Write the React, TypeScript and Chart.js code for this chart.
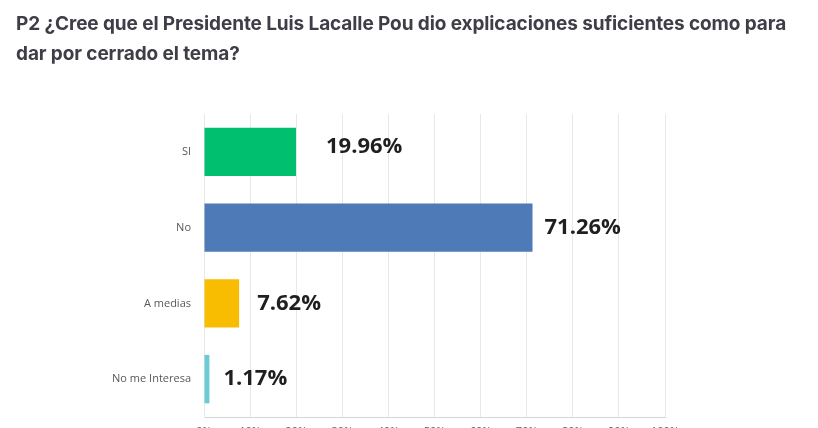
import React, { useEffect, useRef } from "react";
import { Chart, registerables } from "chart.js";

Chart.register(...registerables);

const titleLines = [
  "P2 ¿Cree que el Presidente Luis Lacalle Pou dio explicaciones suficientes como para",
  "dar por cerrado el tema?",
];
const categories = ["SI", "No", "A medias", "No me Interesa"];
const values = [19.96, 71.26, 7.62, 1.17];
const barColors = ["#00BF6F", "#4F7AB8", "#F8BD00", "#6CCAD5"];
const xTicks = [0, 10, 20, 30, 40, 50, 60, 70, 80, 90, 100];

const labelOffsetX = [30, 12, 18, 14];
const labelOffsetY = [-5, 0, 0, 0];

const valueLabelPlugin = {
  id: "valueLabels",
  afterDatasetsDraw(chart: any) {
    const ctx = chart.ctx;
    const meta = chart.getDatasetMeta(0);
    ctx.save();
    ctx.font = "bold 22px 'Open Sans'";
    ctx.fillStyle = "#1f1f1f";
    ctx.textAlign = "left";
    ctx.textBaseline = "middle";
    meta.data.forEach((bar: any, i: number) => {
      const v = chart.data.datasets[0].data[i];
      ctx.fillText(v.toFixed(2) + "%", bar.x + labelOffsetX[i], bar.y + labelOffsetY[i]);
    });
    ctx.restore();
  },
};

export default function App() {
  const ref = useRef<HTMLCanvasElement | null>(null);
  useEffect(() => {
    if (!ref.current) return;
    const chart = new Chart(ref.current, {
      type: "bar",
      data: {
        labels: categories,
        datasets: [
          {
            data: values,
            backgroundColor: barColors,
            borderWidth: 0,
            barPercentage: 0.8,
            categoryPercentage: 0.8,
          },
        ],
      },
      options: {
        indexAxis: "y",
        animation: false,
        responsive: false,
        maintainAspectRatio: false,
        layout: { padding: { left: 0, right: 153, top: 114, bottom: 0 } },
        plugins: {
          legend: { display: false },
          tooltip: { enabled: false },
          title: { display: false },
        },
        scales: {
          x: {
            min: 0,
            max: 100,
            afterBuildTicks: (scale: any) => {
              scale.ticks = xTicks.map((v) => ({ value: v }));
            },
            afterFit: (scale: any) => {
              scale.height = 28;
            },
            grid: { color: "#e8e8e8", drawTicks: false },
            border: { color: "#d6d6d6", width: 1 },
            ticks: {
              padding: 8,
              color: "#595959",
              font: { family: "'Open Sans'", size: 11 },
              callback: (v: any) => v + "%",
            },
          },
          y: {
            afterFit: (scale: any) => {
              scale.width = 204;
            },
            grid: { display: false },
            border: { color: "#e8e8e8", width: 1 },
            ticks: {
              padding: 5,
              color: "#595959",
              font: { family: "'Open Sans'", size: 11 },
            },
          },
        },
      },
      plugins: [valueLabelPlugin],
    });
    return () => chart.destroy();
  }, []);

  return (
    <div style={{ position: "absolute", left: 0, top: 0, width: 818, height: 428, overflow: "hidden", background: "#fff" }}>
      <canvas ref={ref} width={818} height={445} style={{ position: "absolute", left: 0, top: 0, width: 818, height: 445 }} />
      <div
        style={{
          position: "absolute",
          left: 16,
          top: 9,
          fontFamily: "Inter, sans-serif",
          fontWeight: 700,
          fontSize: 19,
          lineHeight: "30px",
          color: "#3f3e47",
          whiteSpace: "nowrap",
          letterSpacing: "-0.1px",
        }}
      >
        {titleLines[0]}
        <br />
        {titleLines[1]}
      </div>
    </div>
  );
}
